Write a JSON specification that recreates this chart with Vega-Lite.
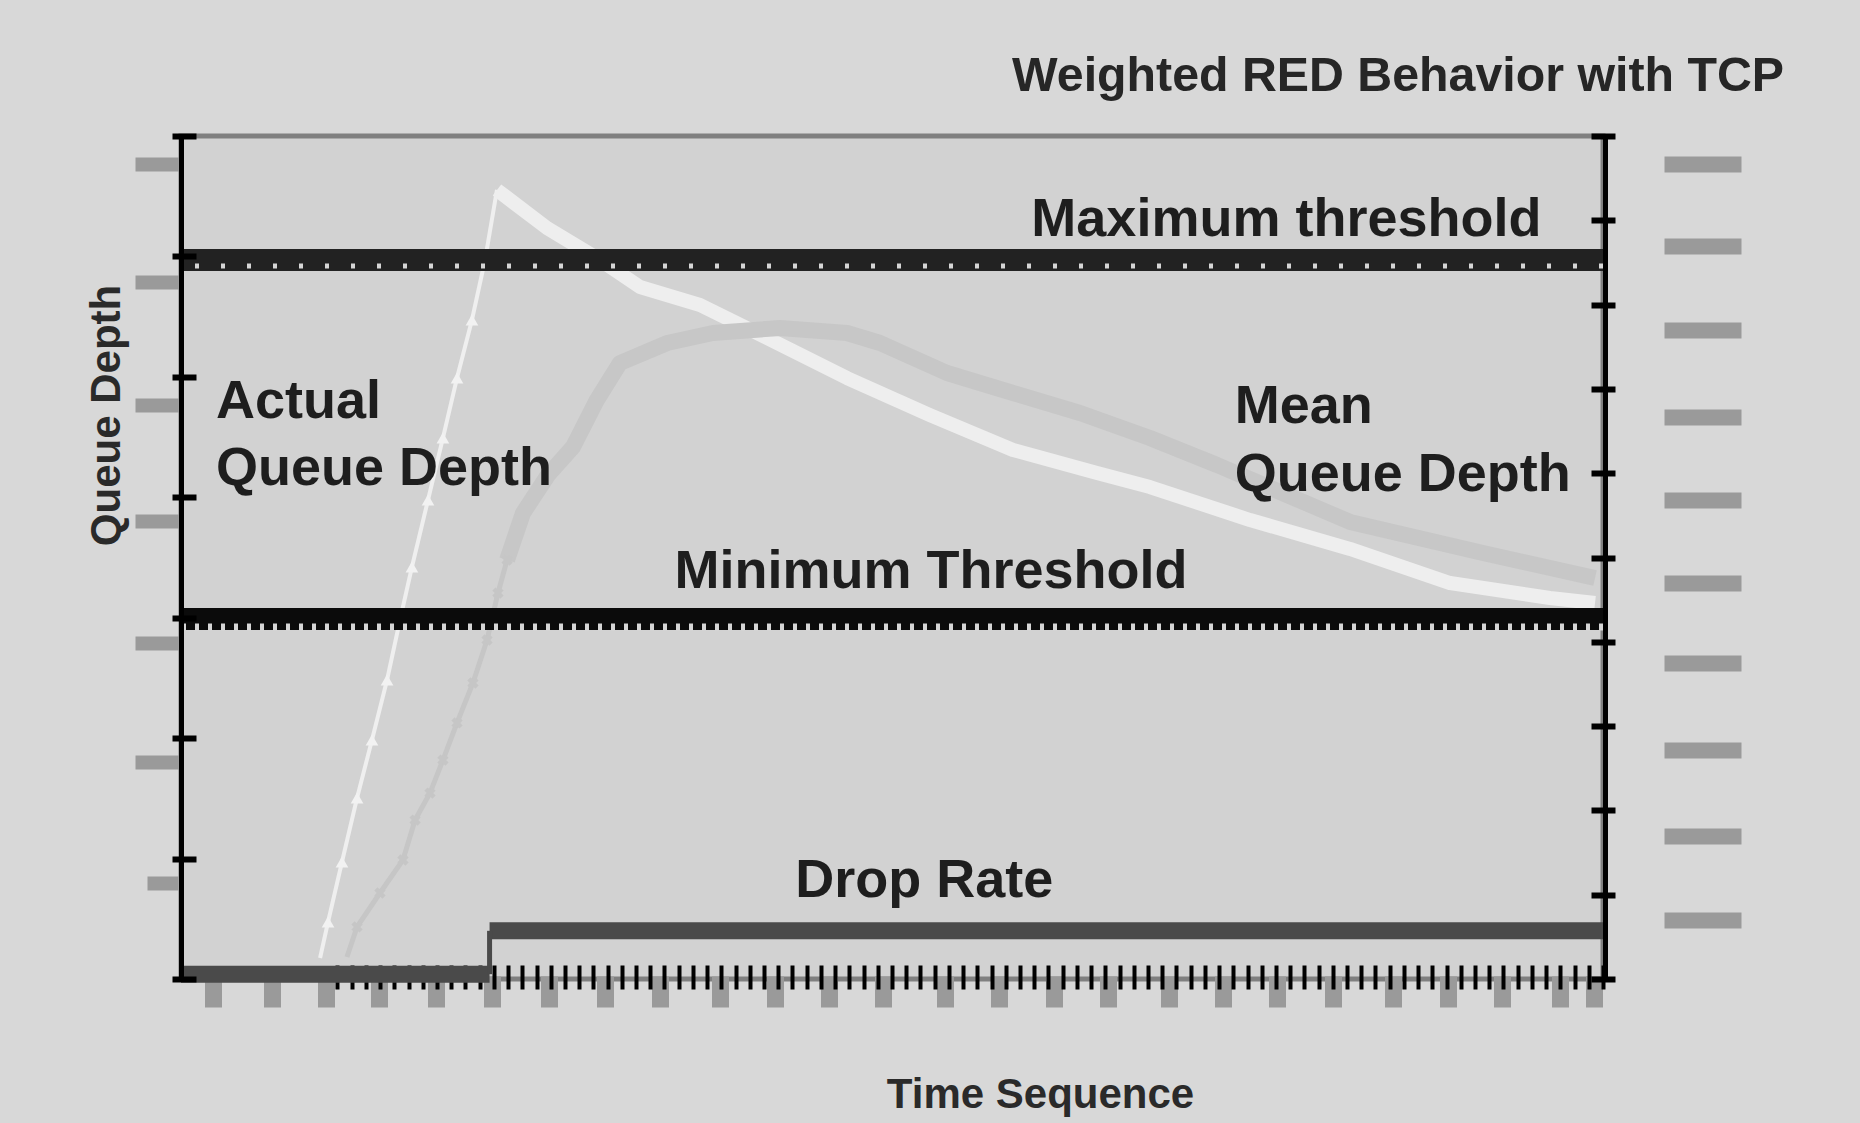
{
  "$schema": "https://vega.github.io/schema/vega-lite/v6.json",
  "width": 1422,
  "height": 843,
  "autosize": {"type": "none"},
  "padding": {"left": 181, "top": 136, "right": 257, "bottom": 144},
  "background": "#d8d8d8",
  "config": {
    "view": {"fill": "#d2d2d2", "stroke": "#808080", "strokeWidth": 5},
    "axis": {"labels": false, "grid": false}
  },
  "title": {
    "text": "Weighted RED Behavior with TCP",
    "anchor": "end",
    "frame": "group",
    "dx": 181,
    "offset": 32,
    "font": "Liberation Sans",
    "fontSize": 48.3,
    "fontWeight": "bold",
    "color": "#262626"
  },
  "datasets": {
    "actual": [
      {"time": 9.78, "depth": 1.74},
      {"time": 10.34, "depth": 4.73},
      {"time": 11.32, "depth": 9.72},
      {"time": 12.38, "depth": 15.03},
      {"time": 13.43, "depth": 19.85},
      {"time": 14.49, "depth": 24.83},
      {"time": 15.40, "depth": 29.81},
      {"time": 16.24, "depth": 34.21},
      {"time": 17.37, "depth": 39.77},
      {"time": 18.42, "depth": 44.92},
      {"time": 19.41, "depth": 49.90},
      {"time": 20.46, "depth": 54.72},
      {"time": 21.38, "depth": 59.70},
      {"time": 22.22, "depth": 65.52},
      {"time": 25.74, "depth": 62.36},
      {"time": 29.47, "depth": 59.70},
      {"time": 32.28, "depth": 57.46},
      {"time": 36.50, "depth": 55.97},
      {"time": 41.21, "depth": 53.23},
      {"time": 46.84, "depth": 49.90},
      {"time": 52.67, "depth": 46.83},
      {"time": 58.51, "depth": 43.93},
      {"time": 64.42, "depth": 42.02},
      {"time": 68.14, "depth": 40.85},
      {"time": 75.18, "depth": 38.11},
      {"time": 82.21, "depth": 35.71},
      {"time": 89.24, "depth": 32.88},
      {"time": 96.27, "depth": 31.64},
      {"time": 99.44, "depth": 31.22}
    ],
    "mean": [
      {"time": 11.67, "depth": 1.83},
      {"time": 12.38, "depth": 4.32},
      {"time": 13.99, "depth": 7.14},
      {"time": 15.61, "depth": 9.88},
      {"time": 16.46, "depth": 13.20},
      {"time": 17.51, "depth": 15.44},
      {"time": 18.42, "depth": 18.18},
      {"time": 19.41, "depth": 21.26},
      {"time": 20.53, "depth": 24.58},
      {"time": 21.52, "depth": 28.15},
      {"time": 22.29, "depth": 32.05},
      {"time": 22.93, "depth": 34.79},
      {"time": 24.05, "depth": 38.69},
      {"time": 25.81, "depth": 41.85},
      {"time": 27.57, "depth": 44.18},
      {"time": 29.25, "depth": 48.08},
      {"time": 30.87, "depth": 51.15},
      {"time": 34.18, "depth": 52.81},
      {"time": 37.41, "depth": 53.64},
      {"time": 42.12, "depth": 54.06},
      {"time": 46.84, "depth": 53.64},
      {"time": 49.16, "depth": 52.81},
      {"time": 53.87, "depth": 50.32},
      {"time": 58.51, "depth": 48.66},
      {"time": 63.22, "depth": 47.00},
      {"time": 68.14, "depth": 44.92},
      {"time": 72.86, "depth": 42.68},
      {"time": 82.21, "depth": 37.95},
      {"time": 91.56, "depth": 35.37},
      {"time": 99.44, "depth": 33.30}
    ],
    "thresholds": [
      {"threshold": "Maximum threshold", "depth": 59.7},
      {"threshold": "Minimum Threshold", "depth": 29.9}
    ],
    "drop": [
      {"start": 0, "end": 21.7, "rate": 0.4},
      {"start": 21.7, "end": 100, "rate": 4.0}
    ],
    "labels": [
      {"text": "Actual", "time": 2.46, "depth": 46.6},
      {"text": "Queue Depth", "time": 2.46, "depth": 41.0},
      {"text": "Maximum threshold", "time": 59.8, "depth": 61.7},
      {"text": "Mean", "time": 74.1, "depth": 46.2},
      {"text": "Queue Depth", "time": 74.1, "depth": 40.5},
      {"text": "Minimum Threshold", "time": 34.7, "depth": 32.5},
      {"text": "Drop Rate", "time": 43.2, "depth": 6.8}
    ]
  },
  "layer": [
    {
      "data": {"name": "actual"},
      "transform": [{"filter": "datum.time <= 22.22"}],
      "mark": {"type": "line", "color": "#efefef", "strokeWidth": 4},
      "encoding": {
        "x": {
          "field": "time", "type": "quantitative",
          "scale": {"domain": [0, 100], "nice": false, "zero": false},
          "axis": {
            "orient": "bottom", "offset": -3, "domain": false, "labels": false, "grid": false,
            "ticks": true, "tickColor": "#9a9a9a", "tickWidth": 17, "tickSize": 31,
            "values": [2.25, 6.4, 10.2, 13.9, 17.9, 21.9, 25.9, 29.8, 33.7, 37.9, 41.8, 45.6, 49.4, 53.7, 57.5, 61.4, 65.2, 69.5, 73.3, 77.1, 81.0, 85.2, 89.1, 92.9, 97.0, 99.4],
            "title": "Time Sequence", "titleFont": "Liberation Sans", "titleFontSize": 42,
            "titleFontWeight": "bold", "titleColor": "#2a2a2a", "titleX": 859, "titleY": 131,
            "titleAlign": "center", "titleBaseline": "alphabetic"
          }
        },
        "y": {
          "field": "depth", "type": "quantitative",
          "scale": {"domain": [0, 70], "nice": false, "zero": false},
          "axis": {
            "orient": "left", "domain": true, "domainColor": "#000000", "domainWidth": 5,
            "ticks": false, "labels": false, "grid": false, "zindex": 1,
            "title": "Queue Depth", "titleFont": "Liberation Sans", "titleFontSize": 42,
            "titleFontWeight": "bold", "titleColor": "#2a2a2a", "titleAngle": -90,
            "titleX": -62, "titleY": 279, "titleAlign": "center", "titleBaseline": "alphabetic"
          }
        }
      }
    },
    {
      "data": {"name": "actual"},
      "transform": [{"filter": "datum.time >= 22.22"}],
      "mark": {"type": "line", "color": "#eeeeee", "strokeWidth": 14, "strokeJoin": "round"},
      "encoding": {
        "x": {
          "field": "time", "type": "quantitative",
          "scale": {"domain": [0, 100], "nice": false, "zero": false},
          "axis": {
            "orient": "bottom", "offset": -14, "domain": false, "labels": false, "grid": false,
            "tickColor": "#000000", "tickWidth": 4, "tickSize": 24, "title": null,
            "values": [11,12,13,14,15,16,17,18,19,20,21,22,23,24,25,26,27,28,29,30,31,32,33,34,35,36,37,38,39,40,41,42,43,44,45,46,47,48,49,50,51,52,53,54,55,56,57,58,59,60,61,62,63,64,65,66,67,68,69,70,71,72,73,74,75,76,77,78,79,80,81,82,83,84,85,86,87,88,89,90,91,92,93,94,95,96,97,98,99,100]
          }
        },
        "y": {
          "field": "depth", "type": "quantitative",
          "scale": {"domain": [0, 70], "nice": false, "zero": false},
          "axis": {
            "orient": "left", "offset": -15, "domain": false, "labels": false, "grid": false,
            "tickColor": "#000000", "tickWidth": 6, "tickSize": 24, "title": null, "zindex": 1,
            "values": [0, 10, 20, 30, 40, 50, 60, 70]
          }
        }
      }
    },
    {
      "data": {"name": "actual"},
      "transform": [{"filter": "datum.time >= 10 && datum.time <= 21.5"}],
      "mark": {"type": "point", "shape": "triangle-up", "filled": true, "size": 160, "color": "#f2f2f2", "opacity": 1},
      "encoding": {
        "x": {"field": "time", "type": "quantitative", "scale": {"domain": [0, 100], "nice": false, "zero": false}, "axis": null},
        "y": {
          "field": "depth", "type": "quantitative",
          "scale": {"domain": [0, 70], "nice": false, "zero": false},
          "axis": {
            "orient": "left", "offset": -2, "domain": false, "labels": false, "grid": false,
            "tickColor": "#9a9a9a", "tickWidth": 14, "tickSize": 48, "title": null,
            "values": [67.7, 57.9, 47.7, 38.0, 27.9, 18.0]
          }
        }
      }
    },
    {
      "data": {"name": "mean"},
      "transform": [{"filter": "datum.time <= 22.93"}],
      "mark": {"type": "line", "color": "#c6c6c6", "strokeWidth": 5},
      "encoding": {
        "x": {"field": "time", "type": "quantitative", "scale": {"domain": [0, 100], "nice": false, "zero": false}, "axis": null},
        "y": {
          "field": "depth", "type": "quantitative",
          "scale": {"domain": [0, 70], "nice": false, "zero": false},
          "axis": {
            "orient": "left", "offset": 3, "domain": false, "labels": false, "grid": false,
            "tickColor": "#9a9a9a", "tickWidth": 14, "tickSize": 31, "title": null,
            "values": [8.0]
          }
        }
      }
    },
    {
      "data": {"name": "mean"},
      "transform": [{"filter": "datum.time >= 22.93"}],
      "mark": {"type": "line", "color": "#c7c7c7", "strokeWidth": 16, "strokeJoin": "round"},
      "encoding": {
        "x": {"field": "time", "type": "quantitative", "scale": {"domain": [0, 100], "nice": false, "zero": false}, "axis": null},
        "y": {
          "field": "depth", "type": "quantitative",
          "scale": {"domain": [0, 70], "nice": false, "zero": false},
          "axis": {
            "orient": "right", "offset": 2, "domain": true, "domainColor": "#000000", "domainWidth": 5,
            "ticks": false, "labels": false, "grid": false, "title": null, "zindex": 1
          }
        }
      }
    },
    {
      "data": {"name": "mean"},
      "transform": [{"filter": "datum.time >= 12 && datum.time <= 22.93"}],
      "mark": {"type": "point", "shape": "cross", "angle": 45, "filled": true, "size": 130, "color": "#c6c6c6", "opacity": 1},
      "encoding": {
        "x": {"field": "time", "type": "quantitative", "scale": {"domain": [0, 100], "nice": false, "zero": false}, "axis": null},
        "y": {
          "field": "depth", "type": "quantitative",
          "scale": {"domain": [0, 70], "nice": false, "zero": false},
          "axis": {
            "orient": "right", "offset": -12, "domain": false, "labels": false, "grid": false,
            "tickColor": "#000000", "tickWidth": 6, "tickSize": 24, "title": null, "zindex": 1,
            "values": [0, 7, 14, 21, 28, 35, 42, 49, 56, 63, 70]
          }
        }
      }
    },
    {
      "data": {"name": "thresholds"},
      "mark": {"type": "rule", "strokeWidth": 22},
      "encoding": {
        "y": {
          "field": "depth", "type": "quantitative",
          "scale": {"domain": [0, 70], "nice": false, "zero": false},
          "axis": {
            "orient": "right", "offset": 61, "domain": false, "labels": false, "grid": false,
            "tickColor": "#9a9a9a", "tickWidth": 16, "tickSize": 77, "title": null,
            "values": [67.7, 60.9, 53.9, 46.7, 39.8, 32.9, 26.2, 19.0, 11.9, 4.9]
          }
        },
        "color": {"field": "threshold", "type": "nominal", "scale": {"range": ["#222222", "#0b0b0b"]}, "legend": null}
      }
    },
    {
      "data": {"name": "thresholds"},
      "transform": [{"filter": "datum.threshold == 'Minimum Threshold'"}],
      "mark": {"type": "rule", "strokeWidth": 7, "yOffset": 8, "strokeDash": [4, 9], "color": "#d6d6d6"},
      "encoding": {
        "y": {"field": "depth", "type": "quantitative", "scale": {"domain": [0, 70], "nice": false, "zero": false}, "axis": null}
      }
    },
    {
      "data": {"name": "thresholds"},
      "transform": [{"filter": "datum.threshold == 'Maximum threshold'"}],
      "mark": {"type": "rule", "strokeWidth": 5, "yOffset": 6, "strokeDash": [4, 22], "color": "#d6d6d6"},
      "encoding": {
        "y": {"field": "depth", "type": "quantitative", "scale": {"domain": [0, 70], "nice": false, "zero": false}, "axis": null}
      }
    },
    {
      "data": {"name": "drop"},
      "mark": {"type": "rule", "strokeWidth": 17, "color": "#4a4a4a"},
      "encoding": {
        "x": {"field": "start", "type": "quantitative", "scale": {"domain": [0, 100], "nice": false, "zero": false}, "axis": null},
        "x2": {"field": "end"},
        "y": {"field": "rate", "type": "quantitative", "scale": {"domain": [0, 70], "nice": false, "zero": false}, "axis": null}
      }
    },
    {
      "data": {"name": "drop"},
      "transform": [
        {"aggregate": [
          {"op": "max", "field": "start", "as": "step"},
          {"op": "min", "field": "rate", "as": "low"},
          {"op": "max", "field": "rate", "as": "high"}
        ]}
      ],
      "mark": {"type": "rule", "strokeWidth": 5, "color": "#4a4a4a"},
      "encoding": {
        "x": {"field": "step", "type": "quantitative", "scale": {"domain": [0, 100], "nice": false, "zero": false}, "axis": null},
        "y": {"field": "low", "type": "quantitative", "scale": {"domain": [0, 70], "nice": false, "zero": false}, "axis": null},
        "y2": {"field": "high"}
      }
    },
    {
      "data": {"name": "labels"},
      "mark": {"type": "text", "align": "left", "baseline": "alphabetic", "font": "Liberation Sans", "fontSize": 54, "fontWeight": "bold", "color": "#1e1e1e"},
      "encoding": {
        "x": {"field": "time", "type": "quantitative", "scale": {"domain": [0, 100], "nice": false, "zero": false}, "axis": null},
        "y": {"field": "depth", "type": "quantitative", "scale": {"domain": [0, 70], "nice": false, "zero": false}, "axis": null},
        "text": {"field": "text"}
      }
    }
  ],
  "resolve": {"axis": {"x": "independent", "y": "independent"}}
}
